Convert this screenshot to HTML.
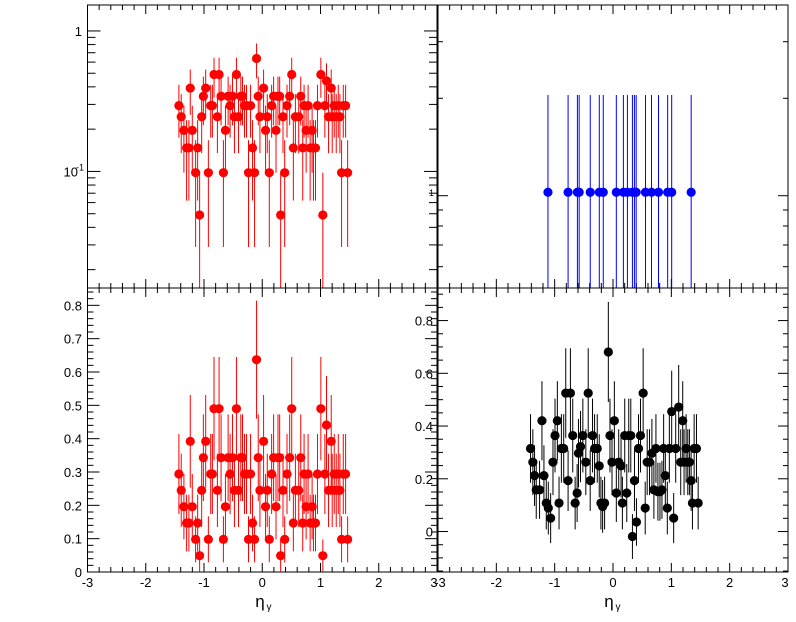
<!DOCTYPE html>
<html><head><meta charset="utf-8"><style>
html,body{margin:0;padding:0;background:#fff;}
svg{display:block;font-family:"Liberation Sans",sans-serif;}
</style></head><body>
<svg id="c" width="796" height="622" viewBox="0 0 796 622"></svg>
<script>
// ---------- data ----------
const etaRed = [-1.431,-1.391,-1.345,-1.299,-1.236,-1.259,-1.201,-1.144,-1.109,-1.075,-1.040,-1.011,-0.971,-0.925,-0.885,-0.856,-0.828,-0.770,-0.741,-0.707,-0.667,-0.632,-0.586,-0.552,-0.511,-0.477,-0.443,-0.408,-0.368,-0.339,-0.305,-0.270,-0.236,-0.201,-0.167,-0.132,-0.098,-0.069,-0.040,0.023,0.057,0.086,0.121,0.161,0.195,0.236,0.270,0.299,0.316,0.356,0.385,0.425,0.471,0.506,0.534,0.569,0.626,0.661,0.695,0.718,0.753,0.787,0.822,0.856,0.879,0.914,0.948,1.006,1.040,1.075,1.103,1.138,1.184,1.201,1.236,1.270,1.305,1.333,1.362,1.391,1.431,1.466];
const valRed = [0.294,0.245,0.196,0.147,0.392,0.147,0.196,0.098,0.147,0.049,0.245,0.343,0.392,0.098,0.294,0.294,0.49,0.245,0.49,0.343,0.098,0.196,0.343,0.294,0.343,0.245,0.49,0.245,0.343,0.343,0.294,0.294,0.098,0.294,0.147,0.098,0.637,0.343,0.245,0.392,0.196,0.245,0.098,0.294,0.343,0.196,0.343,0.343,0.049,0.245,0.098,0.294,0.343,0.49,0.147,0.245,0.245,0.343,0.147,0.294,0.196,0.294,0.147,0.196,0.147,0.147,0.294,0.49,0.049,0.294,0.441,0.245,0.392,0.245,0.294,0.245,0.294,0.245,0.098,0.294,0.294,0.098];
const errRed = [0.12,0.11,0.098,0.085,0.139,0.085,0.098,0.069,0.085,0.049,0.11,0.13,0.139,0.069,0.12,0.12,0.155,0.11,0.155,0.13,0.069,0.098,0.13,0.12,0.13,0.11,0.155,0.11,0.13,0.13,0.12,0.12,0.069,0.12,0.085,0.069,0.177,0.13,0.11,0.139,0.098,0.11,0.069,0.12,0.13,0.098,0.13,0.13,0.049,0.11,0.069,0.12,0.13,0.155,0.085,0.11,0.11,0.13,0.085,0.12,0.098,0.12,0.085,0.098,0.085,0.085,0.12,0.155,0.049,0.12,0.147,0.11,0.139,0.11,0.12,0.11,0.12,0.11,0.069,0.12,0.12,0.069];

const etaBlack = [-1.414,-1.374,-1.345,-1.316,-1.259,-1.218,-1.184,-1.144,-1.109,-1.069,-1.029,-0.994,-0.954,-0.925,-0.885,-0.845,-0.810,-0.770,-0.730,-0.690,-0.649,-0.615,-0.592,-0.557,-0.517,-0.466,-0.425,-0.391,-0.351,-0.316,-0.270,-0.236,-0.207,-0.178,-0.144,-0.080,-0.052,-0.017,0.023,0.057,0.098,0.138,0.161,0.201,0.236,0.270,0.305,0.333,0.368,0.402,0.437,0.471,0.517,0.552,0.586,0.626,0.667,0.701,0.736,0.770,0.805,0.839,0.868,0.897,0.931,0.966,1.006,1.040,1.075,1.126,1.161,1.195,1.218,1.253,1.282,1.310,1.339,1.362,1.391,1.431,1.460];
const valBlack = [0.315,0.263,0.212,0.158,0.158,0.420,0.212,0.108,0.089,0.051,0.263,0.364,0.420,0.108,0.315,0.315,0.525,0.193,0.525,0.364,0.108,0.146,0.297,0.322,0.364,0.263,0.525,0.193,0.364,0.315,0.315,0.249,0.108,0.095,0.108,0.681,0.364,0.263,0.420,0.146,0.263,0.249,0.108,0.364,0.146,0.364,0.364,-0.019,0.193,0.036,0.315,0.364,0.525,0.089,0.263,0.263,0.297,0.158,0.315,0.151,0.151,0.158,0.315,0.212,0.089,0.315,0.455,0.051,0.315,0.472,0.263,0.420,0.263,0.315,0.263,0.263,0.193,0.108,0.315,0.315,0.108];
const errBlack = [0.13,0.125,0.115,0.11,0.11,0.15,0.115,0.10,0.10,0.095,0.125,0.14,0.15,0.10,0.13,0.13,0.17,0.115,0.17,0.14,0.10,0.11,0.13,0.135,0.14,0.125,0.17,0.115,0.14,0.13,0.13,0.12,0.10,0.10,0.10,0.19,0.14,0.125,0.15,0.11,0.125,0.12,0.10,0.14,0.11,0.14,0.14,0.085,0.115,0.09,0.13,0.14,0.17,0.10,0.125,0.125,0.13,0.11,0.13,0.11,0.11,0.11,0.13,0.115,0.10,0.13,0.155,0.095,0.13,0.16,0.125,0.15,0.125,0.13,0.125,0.125,0.115,0.10,0.13,0.13,0.10];

const etaBlue = [-1.115,-0.77,-0.61,-0.58,-0.39,-0.235,-0.167,0.057,0.178,0.247,0.333,0.367,0.397,0.557,0.66,0.78,0.937,1.006,1.34];
const valBlue = [1,1,1,1,1,1,1,1,1,1,1,1,1,1,1,1,1,1,1];
const errBlue = [1,1,1,1,1,1,1,1,1,1,1,1,1,1,1,1,1,1,1];

const xTickLabels = ["-3","-2","-1","0","1","2","3"];
const blTickLabels = ["0","0.1","0.2","0.3","0.4","0.5","0.6","0.7","0.8"];
const brTickLabels = ["0","0.2","0.4","0.6","0.8"];

// ---------- drawing ----------
const svg = document.getElementById('c');
const NS = 'http://www.w3.org/2000/svg';
function mk(tag, attrs, parent){
  const e = document.createElementNS(NS, tag);
  for (const k in attrs) e.setAttribute(k, attrs[k]);
  (parent||svg).appendChild(e);
  return e;
}
function line(g,x1,y1,x2,y2,color,w){
  return mk('line',{x1:x1,y1:y1,x2:x2,y2:y2,stroke:color||'#000','stroke-width':w||1},g);
}
function txt(g,x,y,s,anchor,size){
  const t = mk('text',{x:x,y:y,'text-anchor':anchor||'middle','font-size':size||13,fill:'#000'},g);
  t.textContent = s;
  return t;
}

function makePad(name, L, R, T, B, yMin, yMax, logY){
  const g = mk('g',{});
  
  
  const xs = v => L + (v + 3) / 6 * (R - L);
  let ys;
  if (logY) {
    const a = Math.log10(yMin), b = Math.log10(yMax);
    ys = v => B - (Math.log10(v) - a) / (b - a) * (B - T);
  } else {
    ys = v => B - (v - yMin) / (yMax - yMin) * (B - T);
  }
  const frame = mk('rect',{x:L,y:T,width:R-L,height:B-T,fill:'none',stroke:'#000','stroke-width':1},g);
  
  
  // x ticks
  for (let i = 0; i <= 30; i++) {
    const v = -3 + i * 0.2;
    const x = xs(v);
    const len = (i % 5 === 0) ? 9 : 5;
    line(g, x, B, x, B - len);
    line(g, x, T, x, T + len);
  }
  return {g, xs, ys, L, R, T, B};
}

function drawSeries(p, name, etas, vals, errs, color){
  const g = mk('g',{'clip-path':'url(#clip-' + name + ')'}, p.g);
  
  
  const cp = mk('clipPath',{id:'clip-' + name}, p.g);
  mk('rect',{x:p.L,y:p.T,width:p.R-p.L,height:p.B-p.T}, cp);
  for (let i = 0; i < etas.length; i++) {
    const x = p.xs(etas[i]);
    const lo = vals[i] - errs[i];
    const yTop = p.ys(vals[i] + errs[i]);
    const yBot = lo > 0 ? p.ys(lo) : (p.isLog ? p.B + 5 : p.ys(lo));
    const l = line(g, x, yTop, x, yBot, color, 1);
    
    
    const c = mk('circle',{cx:x, cy:p.ys(vals[i]), r:4.6, fill:color}, g);
    
    
  }
}

// ---------- top-left (log) ----------
const tl = makePad('top-left-pad', 87.5, 437, 5, 288, 0.0148, 1.53, true);
tl.isLog = true;
for (let d = -2; d <= 0; d++) {
  for (let m = 1; m <= 9; m++) {
    const v = m * Math.pow(10, d);
    if (v < 0.0148 || v > 1.53) continue;
    const y = tl.ys(v);
    const len = m === 1 ? 13 : 8;
    line(tl.g, tl.L, y, tl.L + len, y);
    line(tl.g, tl.R, y, tl.R - len, y);
  }
}
txt(tl.g, 82, tl.ys(1) + 5, '1', 'end', 13);
const tlab = txt(tl.g, 78, tl.ys(0.1) + 5, '10', 'end', 13);


txt(tl.g, 84, tl.ys(0.1) - 1, '-1', 'end', 9);
drawSeries(tl, 'red-log-series', etaRed, valRed, errRed, '#ff0000');

// ---------- top-right ----------
const tr = makePad('top-right-pad', 438, 788, 5, 288, 0.016, 2.925, false);
[41.7, 98.3, 195.7, 210, 226, 245, 266.7].forEach((y, i) => {
  const len = i === 2 ? 10 : 5;
  line(tr.g, tr.L, y, tr.L + len, y);
  line(tr.g, tr.R, y, tr.R - len, y);
});
txt(tr.g, 434, 196, '1', 'end', 9);
drawSeries(tr, 'blue-series', etaBlue, valBlue, errBlue, '#0000ff');

// ---------- bottom-left ----------
const bl = makePad('bottom-left-pad', 87.5, 437, 288, 572, 0, 0.852, false);
for (let i = 0; i <= 42; i++) {
  const v = i * 0.02;
  const y = bl.ys(v);
  const len = (i % 5 === 0) ? 12 : 6;
  line(bl.g, bl.L, y, bl.L + len, y);
  line(bl.g, bl.R, y, bl.R - len, y);
}
blTickLabels.forEach((s, i) => {
  const t = txt(bl.g, 82, bl.ys(i * 0.1) + 5, s, 'end', 13);
  
  
});
xTickLabels.forEach((s, i) => {
  const t = txt(bl.g, bl.xs(i - 3) - (i === 6 ? 3 : 0), 587, s, 'middle', 13);
  
  
});
const xt1 = txt(bl.g, 260, 607, 'η', 'middle', 17);


txt(bl.g, 269, 610, 'γ', 'middle', 10);
drawSeries(bl, 'red-series', etaRed, valRed, errRed, '#ff0000');

// ---------- bottom-right ----------
const br = makePad('bottom-right-pad', 438, 788, 288, 572, -0.1535, 0.9235, false);
for (let i = -3; i <= 18; i++) {
  const v = i * 0.05;
  const y = br.ys(v);
  const len = (i % 4 === 0) ? 10 : 5;
  line(br.g, br.L, y, br.L + len, y);
  line(br.g, br.R, y, br.R - len, y);
}
brTickLabels.forEach((s, i) => {
  const t = txt(br.g, 433, br.ys(i * 0.2) + 5, s, 'end', 13);
  
  
});
xTickLabels.forEach((s, i) => {
  const t = txt(br.g, br.xs(i - 3) + (i === 0 ? 2 : 0) - (i === 6 ? 3 : 0), 587, s, 'middle', 13);
  
  
});
const xt2 = txt(br.g, 609, 607, 'η', 'middle', 17);


txt(br.g, 618, 610, 'γ', 'middle', 10);
drawSeries(br, 'black-series', etaBlack, valBlack, errBlack, '#000000');
</script>
</body></html>
